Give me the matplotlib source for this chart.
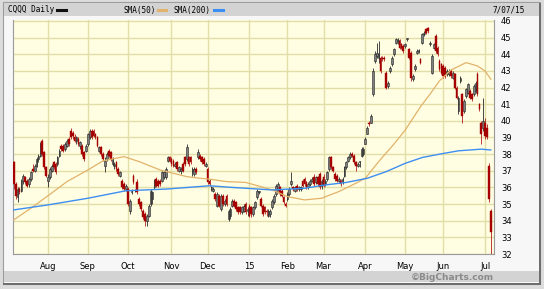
import numpy as np
import pandas as pd
import matplotlib
matplotlib.use("Agg")
import matplotlib.pyplot as plt
from matplotlib.patches import Rectangle
from matplotlib.lines import Line2D

# trading days shown (1 year, CQQQ daily)
holidays = ["2014-09-01", "2014-11-27", "2014-12-25", "2015-01-01", "2015-01-19",
            "2015-02-16", "2015-04-03", "2015-05-25", "2015-07-03"]
days = pd.bdate_range("2014-07-08", "2015-07-07")
days = days[~days.isin(pd.to_datetime(holidays))]

month_labels = ["Aug", "Sep", "Oct", "Nov", "Dec", "15", "Feb", "Mar", "Apr", "May", "Jun", "Jul"]

opens = [
    37.5, 36.2, 35.4, 35.9, 35.8, 36.4, 36.6, 36.4, 36.2, 36.5, 37.1, 37.0, 37.3, 37.7, 37.9, 38.8, 38.1, 37.2,  # jul
    36.4, 36.6, 37.0, 37.5, 37.4, 37.4, 37.9, 38.5, 38.5, 38.3, 38.5, 38.9, 39.4, 39.3, 39.0, 38.8, 38.9, 38.5, 38.5, 38.1, 38.2,  # aug
    38.6, 39.0, 39.4, 39.4, 39.2, 39.0, 38.2, 38.4, 38.0, 37.3, 37.7, 38.2, 38.1, 37.4, 37.3, 37.5, 37.1, 36.7, 36.4, 36.2, 35.9,  # sep
    35.9, 34.6, 35.7, 36.7, 35.8, 36.3, 35.3, 35.1, 34.6, 34.4, 34.0, 34.3, 35.0, 35.3, 36.0, 36.5, 36.4, 36.4, 36.4, 36.6, 36.6, 37.6, 37.8,  # oct
    37.7, 37.6, 37.3, 37.5, 37.0, 37.0, 37.4, 37.8, 37.7, 37.8, 37.8, 36.9, 36.8, 37.1, 37.8, 37.9, 37.8, 37.7, 37.3,  # nov
    37.1, 36.4, 35.9, 35.8, 35.6, 34.9, 35.5, 34.7, 35.5, 35.0, 35.5, 34.1, 34.3, 34.9, 35.2, 35.1, 34.8, 34.8, 34.5, 34.6, 35.0, 34.6,  # dec
    34.9, 34.8, 34.4, 34.8, 35.4, 35.7, 35.3, 34.9, 34.8, 34.6, 34.3, 34.4, 34.8, 35.1, 35.6, 35.9, 36.0, 35.8, 35.4, 35.0,  # jan
    35.3, 35.6, 36.2, 36.0, 35.8, 36.1, 35.9, 35.9, 36.4, 36.5, 36.3, 36.0, 36.2, 36.4, 36.6, 36.3, 36.6, 36.8, 36.1,  # feb
    36.6, 36.2, 36.5, 37.1, 37.8, 37.2, 36.8, 36.7, 36.4, 36.4, 36.3, 36.7, 37.2, 37.6, 37.8, 38.0, 37.9, 37.5, 37.3, 37.5, 37.9, 38.0,  # mar
    38.6, 39.2, 39.9, 39.9, 41.6, 43.6, 43.9, 43.8, 43.8, 43.8, 43.8, 42.9, 42.1, 43.0, 43.4, 44.0, 44.7, 44.8, 44.8, 44.6, 44.5,  # apr
    44.5, 44.9, 44.3, 44.1, 42.5, 43.1, 44.1, 44.2, 43.7, 44.7, 45.2, 45.5, 45.6, 44.6, 42.9, 44.4, 45.1, 44.4, 43.6, 43.4,  # may
    43.3, 43.2, 42.8, 42.8, 43.0, 42.6, 42.8, 42.0, 40.6, 42.4, 41.6, 40.6, 41.5, 41.7, 41.8, 41.6, 41.6, 41.8, 42.8, 41.0, 39.9, 39.6,  # jun
    39.9, 39.6, 37.3, 34.6,  # jul
]
highs = [
    37.6, 36.3, 36.0, 36.0, 36.5, 36.8, 36.7, 36.5, 36.6, 37.0, 37.4, 37.4, 37.8, 38.0, 38.7, 38.9, 38.2, 37.3,
    36.8, 37.2, 37.4, 37.6, 37.5, 37.9, 38.3, 38.6, 38.6, 38.7, 38.9, 39.0, 39.6, 39.4, 39.2, 39.1, 39.0, 38.8, 38.6, 38.2, 38.6,
    39.3, 39.5, 39.5, 39.5, 39.3, 39.1, 38.5, 38.5, 38.1, 37.8, 38.1, 38.3, 38.2, 37.8, 37.5, 37.6, 37.2, 37.0, 36.5, 36.3, 36.2,
    36.0, 35.3, 35.9, 36.8, 35.9, 36.5, 35.4, 35.2, 34.7, 34.5, 34.4, 35.0, 35.9, 35.8, 36.5, 36.6, 36.5, 36.5, 37.0, 37.0, 37.2, 37.9, 37.9,
    37.8, 37.7, 37.5, 37.6, 37.3, 37.2, 37.5, 37.9, 38.6, 37.9, 37.9, 37.2, 37.2, 37.2, 38.3, 38.0, 37.9, 37.8, 37.5,
    37.2, 36.5, 36.1, 36.0, 35.7, 35.7, 35.6, 35.6, 35.6, 35.3, 35.6, 34.7, 34.8, 35.3, 35.3, 35.2, 34.9, 34.9, 34.9, 35.0, 35.1, 34.8,
    35.0, 34.9, 34.9, 35.2, 35.9, 35.8, 35.4, 35.0, 34.9, 34.7, 34.7, 34.7, 35.3, 35.6, 36.2, 36.3, 36.1, 35.9, 35.5, 35.1,
    35.7, 36.0, 36.9, 36.1, 36.1, 36.2, 36.1, 36.1, 36.5, 36.6, 36.4, 36.3, 36.5, 36.6, 36.8, 36.7, 36.7, 36.9, 36.5,
    36.8, 36.5, 37.0, 37.9, 37.9, 37.3, 36.9, 36.8, 36.6, 36.5, 36.6, 37.3, 37.6, 37.9, 38.1, 38.1, 38.0, 37.6, 37.5, 37.6, 38.4, 38.4,
    39.0, 39.7, 40.0, 40.4, 43.2, 44.2, 44.7, 44.8, 43.9, 43.9, 43.9, 43.0, 42.4, 43.3, 43.9, 44.4, 45.0, 45.0, 44.9, 44.7, 44.6,
    44.7, 45.0, 44.4, 44.2, 42.8, 43.4, 44.3, 44.3, 43.8, 45.3, 45.4, 45.6, 45.65, 44.8, 44.0, 44.7, 45.2, 44.5, 43.7, 43.5,
    43.4, 43.3, 43.1, 43.1, 43.1, 43.0, 42.9, 42.1, 41.5, 42.7, 41.7, 41.3, 42.0, 42.3, 41.9, 41.7, 42.2, 42.4, 42.95, 41.1, 40.0, 41.35,
    40.2, 39.8, 37.45, 34.7,
]
lows = [
    35.9, 35.3, 35.1, 35.6, 35.7, 36.2, 36.2, 36.0, 36.0, 36.4, 36.9, 36.9, 37.2, 37.5, 37.8, 37.9, 37.1, 36.6,
    36.0, 36.5, 36.9, 37.1, 36.8, 37.3, 37.8, 38.2, 38.1, 38.2, 38.4, 38.5, 38.9, 38.9, 38.7, 38.6, 38.5, 38.3, 37.9, 37.6, 38.1,
    38.5, 38.9, 38.9, 39.0, 38.9, 38.4, 38.1, 37.9, 37.6, 36.9, 37.6, 37.8, 37.6, 37.3, 37.1, 37.0, 36.7, 36.6, 35.9, 35.8, 35.8,
    34.9, 34.4, 35.6, 36.2, 35.7, 35.6, 34.9, 34.6, 34.1, 33.7, 33.7, 34.2, 34.9, 35.0, 35.9, 36.0, 36.0, 36.1, 36.3, 36.5, 36.5, 37.5, 37.5,
    37.3, 37.2, 37.2, 37.0, 36.9, 36.8, 36.9, 37.3, 37.6, 37.3, 37.4, 36.7, 36.7, 36.8, 37.7, 37.6, 37.4, 37.3, 37.2,
    36.2, 36.1, 35.8, 35.7, 35.2, 34.8, 34.8, 34.6, 34.9, 34.9, 34.9, 34.0, 34.1, 34.8, 34.8, 34.6, 34.4, 34.4, 34.4, 34.5, 34.4, 34.3,
    34.2, 34.2, 34.3, 34.7, 35.3, 35.6, 34.8, 34.3, 34.4, 34.3, 34.2, 34.2, 34.7, 35.0, 35.5, 35.8, 35.5, 35.4, 35.0, 34.8,
    35.2, 35.5, 36.1, 35.8, 35.7, 35.8, 35.8, 35.8, 36.0, 36.1, 35.9, 35.9, 36.1, 36.3, 36.1, 36.2, 36.1, 35.9, 35.9,
    36.0, 36.1, 36.4, 37.0, 37.1, 36.9, 36.4, 36.3, 36.3, 36.1, 36.2, 36.6, 37.1, 37.5, 37.7, 37.8, 37.4, 37.0, 37.2, 37.2, 37.8, 37.9,
    38.6, 39.2, 39.7, 39.9, 41.5, 43.5, 43.8, 43.5, 42.9, 43.6, 43.6, 41.9, 42.0, 42.9, 43.3, 43.9, 44.6, 44.6, 44.3, 44.3, 44.1,
    44.4, 44.8, 43.7, 42.4, 42.4, 43.0, 44.0, 44.1, 43.4, 44.6, 45.1, 45.2, 45.3, 44.5, 42.8, 44.3, 44.1, 43.9, 43.0, 42.8,
    42.6, 42.6, 42.7, 42.7, 42.6, 42.5, 41.9, 41.3, 40.4, 42.3, 39.9, 40.5, 41.4, 41.6, 41.3, 41.2, 41.5, 41.7, 41.5, 40.6, 38.6, 39.4,
    38.9, 38.9, 35.1, 32.0,
]
closes = [
    36.2, 35.5, 35.9, 35.7, 36.4, 36.7, 36.3, 36.1, 36.5, 36.9, 37.0, 37.3, 37.7, 37.9, 38.6, 38.0, 37.2, 36.7,
    36.6, 37.1, 37.3, 37.2, 36.9, 37.8, 38.2, 38.3, 38.2, 38.6, 38.8, 38.6, 39.0, 39.1, 38.8, 39.0, 38.6, 38.7, 38.0, 37.7, 38.5,
    39.2, 39.4, 39.0, 39.1, 39.0, 38.5, 38.4, 38.0, 37.7, 37.6, 38.0, 37.9, 37.7, 37.7, 37.4, 37.1, 36.8, 36.9, 36.0, 35.9, 36.1,
    35.0, 35.2, 35.8, 36.3, 35.8, 35.7, 35.0, 34.7, 34.2, 34.0, 34.3, 34.9, 35.8, 35.7, 36.4, 36.1, 36.1, 36.2, 36.9, 36.9, 37.1, 37.8, 37.6,
    37.4, 37.3, 37.4, 37.1, 37.2, 37.1, 37.0, 37.4, 38.4, 37.4, 37.5, 37.1, 37.1, 36.9, 38.1, 37.7, 37.5, 37.4, 37.4,
    36.3, 36.2, 36.0, 35.9, 35.3, 35.6, 34.9, 35.5, 35.0, 35.2, 35.0, 34.6, 34.7, 35.2, 34.9, 34.7, 34.5, 34.5, 34.8, 34.9, 34.5, 34.7,
    34.3, 34.4, 34.8, 35.1, 35.8, 35.7, 34.9, 34.4, 34.5, 34.5, 34.6, 34.6, 35.2, 35.5, 36.1, 36.2, 35.6, 35.5, 35.1, 34.9,
    35.6, 35.9, 36.4, 35.9, 36.0, 35.9, 36.0, 36.0, 36.1, 36.2, 36.0, 36.2, 36.4, 36.5, 36.2, 36.6, 36.2, 36.0, 36.4,
    36.1, 36.4, 36.9, 37.8, 37.2, 37.0, 36.5, 36.4, 36.5, 36.2, 36.5, 37.2, 37.5, 37.8, 38.0, 37.9, 37.5, 37.3, 37.4, 37.5, 38.3, 38.3,
    38.9, 39.6, 39.8, 40.3, 43.0, 44.0, 44.1, 44.0, 43.0, 43.7, 43.7, 42.0, 42.3, 43.2, 43.8, 44.3, 44.9, 44.8, 44.4, 44.4, 44.2,
    44.6, 44.9, 43.8, 42.6, 42.7, 43.3, 44.2, 44.2, 43.5, 45.2, 45.3, 45.3, 45.4, 44.7, 43.9, 44.6, 44.2, 44.0, 43.1, 42.9,
    42.7, 42.7, 43.0, 43.0, 42.7, 42.9, 42.0, 41.4, 41.4, 42.6, 40.3, 41.2, 41.9, 42.2, 41.4, 41.3, 42.1, 42.3, 41.6, 40.7, 39.2, 40.0,
    39.1, 39.0, 35.3, 33.3,
]

# moving averages
sma50_dates = ["2014-07-08", "2014-07-21", "2014-08-01", "2014-08-15", "2014-09-02", "2014-09-12",
               "2014-09-29", "2014-10-09", "2014-10-24", "2014-11-04", "2014-11-13", "2014-11-24",
               "2014-12-02", "2014-12-15", "2014-12-30", "2015-01-12", "2015-01-21", "2015-02-02",
               "2015-02-13", "2015-02-27", "2015-03-12", "2015-03-25", "2015-04-01", "2015-04-13",
               "2015-04-23", "2015-05-01", "2015-05-13", "2015-05-20", "2015-05-28", "2015-06-05",
               "2015-06-17", "2015-06-25", "2015-07-01", "2015-07-07"]
sma50_vals = [34.05, 34.75, 35.5, 36.35, 37.05, 37.6, 37.85, 37.55, 37.05, 36.85, 36.65, 36.55,
              36.5, 36.35, 36.3, 36.05, 35.85, 35.45, 35.25, 35.35, 35.75, 36.25, 36.55, 37.55,
              38.6, 39.45, 40.85, 41.6, 42.4, 43.05, 43.5, 43.3, 43.0, 42.5]
sma200_dates = ["2014-07-08", "2014-08-01", "2014-09-02", "2014-09-30", "2014-10-29", "2014-12-02",
                "2014-12-18", "2015-01-21", "2015-02-13", "2015-03-03", "2015-03-18", "2015-04-02",
                "2015-04-17", "2015-05-01", "2015-05-14", "2015-05-28", "2015-06-11", "2015-06-29",
                "2015-07-07"]
sma200_vals = [34.65, 34.95, 35.35, 35.8, 35.9, 36.1, 36.0, 35.85, 35.95, 36.15, 36.3, 36.55,
               36.95, 37.45, 37.8, 38.0, 38.2, 38.3, 38.25]

W, H = 544, 289
fig = plt.figure(figsize=(W / 100, H / 100), dpi=100)
fig.patch.set_facecolor("#dcdcdc")

def px_rect(x0, y0, x1, y1, **kw):
    fig.add_artist(Rectangle((x0 / W, 1 - y1 / H), (x1 - x0) / W, (y1 - y0) / H,
                             transform=fig.transFigure, zorder=-5, **kw))

# frame / title bar / footer
px_rect(3, 2, 540, 284, facecolor="#f7f7f7", edgecolor="#9c9c9c", lw=0.8)
px_rect(4, 3, 539, 16, facecolor="#d3d3d3", edgecolor="none")
px_rect(4, 271, 539, 282, facecolor="#d3d3d3", edgecolor="none")
px_rect(3, 283, 541, 285, facecolor="#6e6e6e", edgecolor="none")
px_rect(539, 3, 541, 285, facecolor="#6e6e6e", edgecolor="none")

ax = fig.add_axes([13 / W, 35 / H, 481 / W, 234 / H])
ax.set_facecolor("#fffee2")

x = np.arange(len(days))
o = np.array(opens); hi = np.array(highs); lo = np.array(lows); c = np.array(closes)
up = c >= o
body_lo = np.minimum(o, c)
body_h = np.maximum(np.abs(c - o), 0.06)

ax.vlines(x[up], lo[up], hi[up], color="#2a2a2a", lw=0.6, zorder=3)
ax.vlines(x[~up], lo[~up], hi[~up], color="#b01c1c", lw=0.6, zorder=3)
ax.bar(x[up], body_h[up], bottom=body_lo[up], width=0.9, color="#7f7f7f",
       edgecolor="#222222", lw=0.4, zorder=4)
ax.bar(x[~up], body_h[~up], bottom=body_lo[~up], width=0.9, color="#a80000",
       edgecolor="#a00000", lw=0.3, zorder=4)

pos50 = days.get_indexer(pd.to_datetime(sma50_dates))
pos200 = days.get_indexer(pd.to_datetime(sma200_dates))
ax.plot(pos50, sma50_vals, color="#e2b26a", lw=0.9, zorder=5)
ax.plot(pos200, sma200_vals, color="#3d8ef2", lw=1.0, zorder=5)

month_pos = [i for i in range(1, len(days)) if days[i].month != days[i - 1].month]
ax.set_xticks(month_pos)
ax.set_xticklabels(month_labels)
ax.set_yticks(range(32, 47))
ax.yaxis.tick_right()
ax.tick_params(length=0, labelsize=6)
ax.tick_params(axis="x", pad=6)
ax.tick_params(axis="y", pad=5)
ax.set_xlim(-0.4, 252.7)
ax.set_ylim(32, 46.06)
ax.grid(True, color="#e2dea8", lw=1.0)
ax.set_axisbelow(True)
for s in ["left", "right", "bottom"]:
    ax.spines[s].set_color("#9a9a9a")
    ax.spines[s].set_linewidth(0.8)
ax.spines["top"].set_visible(False)

# header text and legend keys
ty = 1 - 10 / H
fig.text(8 / W, ty, "CQQQ Daily", fontsize=5.5, va="center", family="DejaVu Sans Mono")
fig.add_artist(Line2D([57 / W, 66 / W], [ty] * 2, color="#111111", lw=2.2, transform=fig.transFigure))
fig.text(123 / W, ty, "SMA(50)", fontsize=5.5, va="center", family="DejaVu Sans Mono")
fig.add_artist(Line2D([158 / W, 166 / W], [ty] * 2, color="#e2b26a", lw=2.2, transform=fig.transFigure))
fig.text(174 / W, ty, "SMA(200)", fontsize=5.5, va="center", family="DejaVu Sans Mono")
fig.add_artist(Line2D([214 / W, 223 / W], [ty] * 2, color="#3d8ef2", lw=2.2, transform=fig.transFigure))
fig.text(525 / W, ty, "7/07/15", fontsize=5.5, va="center", ha="right", family="DejaVu Sans Mono")
fig.text(494 / W, 1 - 277 / H, "\u00a9BigCharts.com", fontsize=6.5, va="center", ha="right",
         color="#8a8a8a", fontweight="bold")

fig.savefig("out.png", dpi=100, facecolor=fig.get_facecolor())
